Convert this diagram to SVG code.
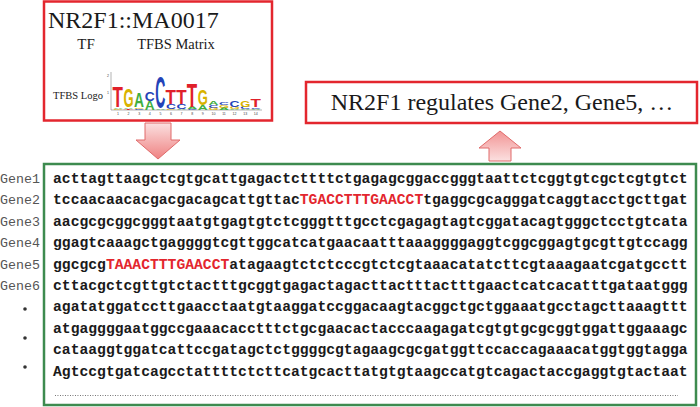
<svg xmlns="http://www.w3.org/2000/svg" width="700" height="407" viewBox="0 0 700 407">
<style>
.redbox{fill:#fff;stroke:#e3262e;stroke-width:2.5}
.greenbox{fill:#fff;stroke:#3d8b4f;stroke-width:2.5}
.serif{font-family:"Liberation Serif","Times New Roman",serif;fill:#1a1a1a}
.seq{font-family:"Liberation Mono","Courier New",monospace;font-weight:bold;font-size:14.7px;fill:#1a1a1a}
.hit{fill:#e3262e}
.gene{font-family:"Liberation Mono","Courier New",monospace;font-size:13.3px;fill:#555}
.lg{font-family:"Liberation Sans",Arial,sans-serif;font-weight:bold;font-size:10px}
.A{fill:#3fae3f}.C{fill:#2443b8}.G{fill:#d9b300}.T{fill:#e0202a}
.tick{font-family:"Liberation Sans",Arial,sans-serif;font-size:3.6px;fill:#444}
.arrow{stroke:#e06a6a;stroke-width:1}
</style>
<defs>
<linearGradient id="gDown" x1="0" y1="0" x2="0" y2="1">
<stop offset="0" stop-color="#fbe0e0"/><stop offset="1" stop-color="#ef8282"/>
</linearGradient>
<linearGradient id="gUp" x1="0" y1="0" x2="0" y2="1">
<stop offset="0" stop-color="#f29494"/><stop offset="1" stop-color="#fbe0e0"/>
</linearGradient>
</defs>

<g id="node-tf">
<rect class="redbox" x="44" y="1.5" width="228" height="119"/>
<text class="serif" x="48" y="28" font-size="24">NR2F1::MA0017</text>
<text class="serif" x="86" y="49" font-size="15" text-anchor="middle">TF</text>
<text class="serif" x="176" y="49" font-size="14.5" text-anchor="middle">TFBS Matrix</text>
<text class="serif" x="53" y="99" font-size="10.5">TFBS Logo</text>
<g id="logo">
<line x1="111" y1="72" x2="111" y2="110" stroke="#666" stroke-width="0.5"/>
<line x1="111" y1="110" x2="262" y2="110" stroke="#666" stroke-width="0.5"/>
<text class="tick" x="109" y="77" text-anchor="end">2</text>
<text class="tick" x="109" y="94" text-anchor="end">1</text>
<g class="tick" text-anchor="middle">
<text x="118" y="114.5">1</text><text x="128.6" y="114.5">2</text><text x="139.2" y="114.5">3</text><text x="149.8" y="114.5">4</text><text x="160.4" y="114.5">5</text><text x="171" y="114.5">6</text><text x="181.6" y="114.5">7</text><text x="192.2" y="114.5">8</text><text x="202.8" y="114.5">9</text><text x="213.4" y="114.5">10</text><text x="224" y="114.5">11</text><text x="234.6" y="114.5">12</text><text x="245.2" y="114.5">13</text><text x="255.8" y="114.5">14</text>
</g>
<g class="lg">
<!-- pos1 -->
<text class="G" transform="translate(113.2,109.8) scale(1.25,0.18)">G</text>
<text class="A" transform="translate(113.2,108.5) scale(1.35,0.2)">A</text>
<text class="T" transform="translate(112.6,107) scale(1.7,2.9)">T</text>
<!-- pos2 -->
<text class="T" transform="translate(123.5,109.8) scale(1.6,0.15)">T</text>
<text class="A" transform="translate(123.6,108.7) scale(1.35,0.25)">A</text>
<text class="G" transform="translate(123.4,106.9) scale(1.3,2.65)">G</text>
<!-- pos3 -->
<text class="C" transform="translate(134.2,109.8) scale(1.35,0.15)">C</text>
<text class="G" transform="translate(134.2,108.7) scale(1.3,0.2)">G</text>
<text class="A" transform="translate(134.1,107.3) scale(1.38,1.95)">A</text>
<!-- pos4 -->
<text class="A" transform="translate(144.8,109.8) scale(1.38,1.2)">A</text>
<text class="C" transform="translate(144.8,101.2) scale(1.38,1.35)">C</text>
<!-- pos5 -->
<text class="A" transform="translate(155.4,109.8) scale(1.38,0.2)">A</text>
<text class="C" transform="translate(155.3,108.3) scale(1.4,4.5)">C</text>
<!-- pos6 -->
<text class="G" transform="translate(166,109.8) scale(1.3,0.15)">G</text>
<text class="C" transform="translate(166,108.7) scale(1.38,0.7)">C</text>
<text class="T" transform="translate(165.6,103.5) scale(1.7,2.1)">T</text>
<!-- pos7 -->
<text class="A" transform="translate(176.6,109.8) scale(1.38,0.15)">A</text>
<text class="C" transform="translate(176.6,108.7) scale(1.38,0.7)">C</text>
<text class="T" transform="translate(176.2,103.5) scale(1.7,2.1)">T</text>
<!-- pos8 -->
<text class="C" transform="translate(187.2,109.8) scale(1.38,0.15)">C</text>
<text class="A" transform="translate(187.2,108.7) scale(1.38,0.3)">A</text>
<text class="T" transform="translate(186.8,106.5) scale(1.7,3.4)">T</text>
<!-- pos9 -->
<text class="A" transform="translate(197.8,109.8) scale(1.38,0.7)">A</text>
<text class="G" transform="translate(197.7,104.6) scale(1.3,2.2)">G</text>
<!-- pos10 -->
<text class="G" transform="translate(208.5,109.8) scale(1.3,0.3)">G</text>
<text class="C" transform="translate(208.4,107.6) scale(1.38,0.3)">C</text>
<text class="A" transform="translate(208.4,105.4) scale(1.38,0.55)">A</text>
<!-- pos11 -->
<text class="A" transform="translate(219,109.8) scale(1.38,0.3)">A</text>
<text class="G" transform="translate(219.1,107.6) scale(1.3,0.4)">G</text>
<text class="C" transform="translate(219,104.7) scale(1.38,0.4)">C</text>
<!-- pos12 -->
<text class="A" transform="translate(229.6,109.8) scale(1.38,0.15)">A</text>
<text class="G" transform="translate(229.7,108.7) scale(1.3,0.3)">G</text>
<text class="C" transform="translate(229.6,106.5) scale(1.38,0.95)">C</text>
<!-- pos13 -->
<text class="A" transform="translate(240.2,109.8) scale(1.38,0.15)">A</text>
<text class="C" transform="translate(240.2,108.7) scale(1.38,0.3)">C</text>
<text class="G" transform="translate(240.3,106.5) scale(1.3,0.95)">G</text>
<!-- pos14 -->
<text class="A" transform="translate(250.8,109.8) scale(1.38,0.15)">A</text>
<text class="C" transform="translate(250.8,108.7) scale(1.38,0.25)">C</text>
<text class="T" transform="translate(250.4,106.8) scale(1.7,1.0)">T</text>
</g>
</g>
</g>

<g id="node-result">
<rect class="redbox" x="306" y="82" width="391" height="41"/>
<text class="serif" x="502" y="110" font-size="24" text-anchor="middle">NR2F1 regulates Gene2, Gene5, …</text>
</g>

<g id="connectors">
<polygon class="arrow" fill="url(#gDown)" points="145,123 171,123 171,140 180,140 158,159 136,140 145,140"/>
<polygon class="arrow" fill="url(#gUp)" points="500,131 521,148 511,148 511,161 489,161 489,148 479,148"/>
</g>

<g id="node-sequences">
<rect class="greenbox" x="44" y="164" width="652" height="241"/>
<g class="gene">
<text x="0" y="183">Gene1</text>
<text x="0" y="204.4">Gene2</text>
<text x="0" y="225.8">Gene3</text>
<text x="0" y="247.2">Gene4</text>
<text x="0" y="268.6">Gene5</text>
<text x="0" y="290">Gene6</text>
</g>
<g fill="#333">
<circle cx="25" cy="309" r="1.8"/>
<circle cx="25" cy="338" r="1.8"/>
<circle cx="25" cy="367" r="1.8"/>
</g>
<g class="seq">
<text x="53" y="183">acttagttaagctcgtgcattgagactcttttctgagagcggaccgggtaattctcggtgtcgctcgtgtct</text>
<text x="53" y="204.4">tccaacaacacgacgacagcattgttac<tspan class="hit">TGACCTTTGAACCT</tspan>tgaggcgcagggatcaggtacctgcttgat</text>
<text x="53" y="225.8">aacgcgcggcgggtaatgtgagtgtctcgggtttgcctcgagagtagtcggatacagtgggctcctgtcata</text>
<text x="53" y="247.2">ggagtcaaagctgaggggtcgttggcatcatgaacaatttaaaggggaggtcggcggagtgcgttgtccagg</text>
<text x="53" y="268.6">ggcgcg<tspan class="hit">TAAACTTTGAACCT</tspan>atagaagtctctcccgtctcgtaaacatatcttcgtaaagaatcgatgcctt</text>
<text x="53" y="290">cttacgctcgttgtctactttgcggtgagactagacttactttactttgaactcatcacatttgataatggg</text>
<text x="53" y="311.4">agatatggatccttgaacctaatgtaaggatccggacaagtacggctgctggaaatgcctagcttaaagttt</text>
<text x="53" y="332.8">atgaggggaatggccgaaacacctttctgcgaacactacccaagagatcgtgtgcgcggtggattggaaagc</text>
<text x="53" y="354.2">cataaggtggatcattccgatagctctggggcgtagaagcgcgatggttccaccagaaacatggtggtagga</text>
<text x="53" y="375.6">Agtccgtgatcagcctattttctcttcatgcacttatgtgtaagccatgtcagactaccgaggtgtactaat</text>
</g>
<line x1="55" y1="395.5" x2="678" y2="395.5" stroke="#555" stroke-width="0.9" stroke-dasharray="0.9 1.6"/>
</g>
</svg>
